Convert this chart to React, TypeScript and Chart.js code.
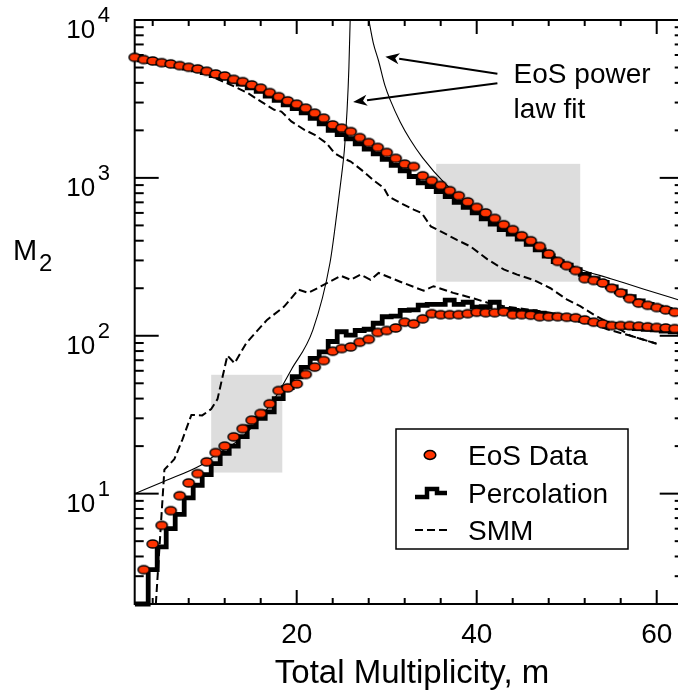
import React, { useEffect, useRef } from 'react';
import { Chart, registerables } from 'chart.js';

Chart.register(...registerables);

const FONT = "'Liberation Sans', Arial, Helvetica, sans-serif";

// ---------------- data ----------------
const eosUpperM = [2,3,4,5,6,7,8,9,10,11,12,13,14,15,16,17,18,19,20,21,22,23,24,25,26,27,28,29,30,31,32,33,34,35,36,37,38,39,40,41,42,43,44,45,46,47,48,49,50,51,52,53,54,55,56,57,58,59,60,61,62];
const eosUpperM2 = [5800,5620,5500,5370,5270,5145,5020,4900,4740,4550,4420,4210,4070,3880,3700,3470,3270,3075,2930,2765,2570,2390,2165,2065,1965,1800,1675,1560,1448,1330,1223,1180,1031,960,896,830,771,705,650,600,554,505,470,430,400,368,330,296,278,259,230,224,216,200,187,172,161,156,151,146,141];

const eosLowerM = [3,4,5,6,7,8,9,10,11,12,13,14,15,16,17,18,19,20,21,22,23,24,25,26,27,28,29,30,31,32,33,34,35,36,37,38,39,40,41,42,43,44,45,46,47,48,49,50,51,52,53,54,55,56,57,58,59,60,61,62];
const eosLowerM2 = [3.3,4.8,6.3,7.8,9.7,11.7,13.4,15.9,18.2,20.0,22.9,25.8,29.2,32.2,37.1,45,46.8,49.6,56.9,63.3,69.7,79.8,83,85,91,95,105,108,112,122,119,128,138,136,136,136,138,141,140,140,142,136,136,135,132,132,132,131,130,126,122,119,116,116,116,115,114,113,112,111];

const percUpperM = [2,3,4,5,6,7,8,9,10,11,12,13,14,15,16,17,18,19,20,21,22,23,24,25,26,27,28,29,30,31,32,33,34,35,36,37,38,39,40,41,42,43,44,45,46,47,48,49,50,51,52,53,54,55,56,57,58,59,60,61,62,63];
const percUpperM2 = [5780,5600,5480,5340,5230,5100,4960,4830,4650,4450,4300,4080,3920,3720,3530,3300,3100,2900,2750,2580,2380,2200,2000,1880,1770,1640,1520,1420,1310,1200,1110,1020,930,880,820,760,700,650,600,550,510,470,440,410,380,350,320,295,280,262,245,230,218,204,190,177,166,158,152,147,143,140];

const percLowerM = [2,3,4,5,6,7,8,9,10,11,12,13,14,15,16,17,18,19,20,21,22,23,24,25,26,27,28,29,30,31,32,33,34,35,36,37,38,39,40,41,42,43,44,45,46,47,48,49,50,51,52,53,54,55,56,57,58,59,60,61,62,63];
const percLowerM2 = [2,2,3.3,4.6,6.0,7.4,9.4,11.3,13.2,15.5,18,20,23,26.5,30,33,40,47,55,63,72,79,92,106,101,108,110,120,132,133,145,146,156,158,158,168,158,163,152,153,163,147,145,143,142,139,136,133,131,128,125,122,120,118,115,113,111,110,109,107,106,105];

const smmUpperM = [2,5,8,10,11,13.1,14.6,16,17.5,18.3,19.4,20.9,22,23.3,24.2,25.2,26,27.4,28.5,29.7,30.2,31.5,33,33.9,34.9,36,37.8,39.3,41.2,43,44.5,46.3,48.2,50,51.5,53,55,57.1,60];
const smmUpperM2 = [5750,5300,4950,4600,4280,3786,3434,3050,2700,2630,2280,2010,1875,1660,1435,1330,1270,1100,970,860,763,695,630,598,493,458,405,368,305,263,244,226,200,170,154,136,118,100,89];

const smmLowerM = [4.35,5.3,6.4,7.3,8.3,9.5,10.5,11.2,12.3,13.1,14.4,16.7,18.6,20.2,21.3,23.2,24.9,26,27.1,28.2,29.1,31.5,34.1,35.2,37.4,39.7,41.2,43,47.8,51.9,54.5,57.1,60];
const smmLowerM2 = [2,14.2,16.5,22,31.5,31.3,34.3,39.7,75,67,90,126,153,196,187,213,240,226,244,226,250,220,193,206,187,172,162,154,141,126,110,100,89];

const fitLowerM = [2,5.3,9.4,10.5,14,17.5,19.4,21.8,23.7,24.5,25.0,25.3,25.6,25.8,25.95];
const fitLowerM2 = [10,12,15.2,16.8,23,39.7,61,109,290,620,1050,1506,2700,5000,10500];

const fitUpperM = [27.95,28.5,29.1,29.8,30.4,31.5,32.6,34,36.5,40,44,48,51.2,54.9,58.5,63];
const fitUpperM2 = [10500,7200,5500,3850,3110,2260,1750,1340,920,625,440,333,268,230,198,165];

// shaded regions [mFrom, mTo, M2From, M2To]
const shadeBoxes = [
  [35.5, 51.5, 220, 1227],
  [10.5, 18.4, 13.6, 56.6],
];

const xMajorTicks = [20, 40, 60];
const xMinorStep = 4;
const yDecades = [1, 2, 3, 4];

const legendLabels = ['EoS Data', 'Percolation', 'SMM'];
const annotationLines = ['EoS power', 'law fit'];
// arrows: [fromM, fromM2, toM, toM2]
const arrows = [
  [42.3, 4560, 29.85, 5860],
  [42.3, 3974, 26.27, 3025],
];
const annotationAnchor = [44.1, 4010, 2392];

const RED = '#ff3300';

function xy(xs: number[], ys: number[]) {
  return xs.map((x, i) => ({ x, y: ys[i] }));
}

function makeDot(): HTMLCanvasElement {
  const c = document.createElement('canvas');
  c.width = 15;
  c.height = 12;
  const g = c.getContext('2d')!;
  g.beginPath();
  g.ellipse(7.5, 6, 5.6, 4.1, 0, 0, Math.PI * 2);
  g.fillStyle = RED;
  g.fill();
  g.lineWidth = 1.5;
  g.strokeStyle = '#000';
  g.stroke();
  return c;
}

const decor = {
  id: 'decor',
  beforeDatasetsDraw(chart: any) {
    const { ctx, chartArea: ca, scales } = chart;
    const xs = scales.x, ys = scales.y;
    ctx.save();
    // shaded boxes
    ctx.fillStyle = '#dddddd';
    for (const b of shadeBoxes) {
      const x1 = xs.getPixelForValue(b[0]);
      const x2 = xs.getPixelForValue(b[1]);
      const y1 = ys.getPixelForValue(b[2]);
      const y2 = ys.getPixelForValue(b[3]);
      ctx.fillRect(x1, y2, x2 - x1, y1 - y2);
    }
    // frame
    ctx.strokeStyle = '#000';
    ctx.lineWidth = 2;
    ctx.strokeRect(ca.left, ca.top, ca.right - ca.left, ca.bottom - ca.top);
    const seg = (a: number, b: number, c: number, d: number) => {
      ctx.beginPath();
      ctx.moveTo(a, b);
      ctx.lineTo(c, d);
      ctx.stroke();
    };
    ctx.lineWidth = 2;
    // y ticks
    for (let k = 0; k <= 4; k++) {
      for (let m = 1; m <= 9; m++) {
        const v = m * Math.pow(10, k);
        if (v < 2 || v > 10000) continue;
        const py = ys.getPixelForValue(v);
        const len = m === 1 ? 24 : 9;
        seg(ca.left, py, ca.left + len, py);
        seg(ca.right, py, ca.right - len, py);
      }
    }
    // x ticks
    for (let v = xMinorStep; v <= 63; v += xMinorStep) {
      if (v < 2) continue;
      const px = xs.getPixelForValue(v);
      const len = xMajorTicks.includes(v) ? 14 : 6;
      seg(px, ca.bottom, px, ca.bottom - len);
      seg(px, ca.top, px, ca.top + len);
    }
    // x tick labels
    ctx.fillStyle = '#000';
    ctx.font = `28px ${FONT}`;
    ctx.textAlign = 'center';
    ctx.textBaseline = 'alphabetic';
    for (const v of xMajorTicks) {
      ctx.fillText(String(v), xs.getPixelForValue(v), ca.bottom + 39);
    }
    // y tick labels 10^k
    for (const k of yDecades) {
      const py = ys.getPixelForValue(Math.pow(10, k));
      ctx.font = `26px ${FONT}`;
      ctx.textAlign = 'right';
      ctx.fillText('10', ca.left - 39.5, py + 18);
      ctx.font = `22px ${FONT}`;
      ctx.textAlign = 'left';
      ctx.fillText(String(k), ca.left - 37, py + 2);
    }
    // y title M2
    ctx.textAlign = 'left';
    ctx.font = `29px ${FONT}`;
    ctx.fillText('M', 13, 260);
    ctx.font = `24px ${FONT}`;
    ctx.fillText('2', 39, 271);
    // x title
    ctx.font = `33px ${FONT}`;
    ctx.textAlign = 'center';
    ctx.fillText('Total Multiplicity, m', 412, ca.bottom + 79);
    ctx.restore();
  },
  afterDatasetsDraw(chart: any) {
    const { ctx, chartArea: ca, scales } = chart;
    const xs = scales.x, ys = scales.y;
    ctx.save();
    // annotation text
    ctx.fillStyle = '#000';
    ctx.font = `28px ${FONT}`;
    ctx.textAlign = 'left';
    ctx.textBaseline = 'alphabetic';
    const ax = xs.getPixelForValue(annotationAnchor[0]);
    ctx.fillText(annotationLines[0], ax, ys.getPixelForValue(annotationAnchor[1]));
    ctx.fillText(annotationLines[1], ax, ys.getPixelForValue(annotationAnchor[2]));
    // arrows
    ctx.strokeStyle = '#000';
    ctx.lineWidth = 2;
    for (const a of arrows) {
      const x1 = xs.getPixelForValue(a[0]);
      const y1 = ys.getPixelForValue(a[1]);
      const x2 = xs.getPixelForValue(a[2]);
      const y2 = ys.getPixelForValue(a[3]);
      const ang = Math.atan2(y2 - y1, x2 - x1);
      const hl = 14, hw = 5.5;
      const bx = x2 - hl * Math.cos(ang);
      const by = y2 - hl * Math.sin(ang);
      ctx.beginPath();
      ctx.moveTo(x1, y1);
      ctx.lineTo(bx, by);
      ctx.stroke();
      ctx.beginPath();
      ctx.moveTo(x2, y2);
      ctx.lineTo(bx + hw * Math.sin(ang), by - hw * Math.cos(ang));
      ctx.lineTo(bx + 4 * Math.cos(ang), by + 4 * Math.sin(ang));
      ctx.lineTo(bx - hw * Math.sin(ang), by + hw * Math.cos(ang));
      ctx.closePath();
      ctx.fillStyle = '#000';
      ctx.fill();
    }
    // legend
    const lx = ca.left + 261.3;
    const ly = ca.top + 409;
    const lw = 232, lh = 120;
    ctx.fillStyle = '#fff';
    ctx.fillRect(lx, ly, lw, lh);
    ctx.lineWidth = 1.5;
    ctx.strokeStyle = '#000';
    ctx.strokeRect(lx, ly, lw, lh);
    const tx = lx + 72;
    const base = [ly + 36, ly + 74, ly + 111];
    ctx.fillStyle = '#000';
    ctx.font = `28px ${FONT}`;
    legendLabels.forEach((t, i) => ctx.fillText(t, tx, base[i]));
    // eos marker
    ctx.beginPath();
    ctx.ellipse(lx + 34, ly + 26, 5.8, 4.4, 0, 0, Math.PI * 2);
    ctx.fillStyle = RED;
    ctx.fill();
    ctx.lineWidth = 1.5;
    ctx.stroke();
    // percolation marker
    ctx.lineWidth = 4.5;
    ctx.lineJoin = 'miter';
    ctx.beginPath();
    ctx.moveTo(lx + 19, ly + 68);
    ctx.lineTo(lx + 31, ly + 68);
    ctx.lineTo(lx + 31, ly + 60);
    ctx.lineTo(lx + 41, ly + 60);
    ctx.lineTo(lx + 41, ly + 64);
    ctx.lineTo(lx + 51, ly + 64);
    ctx.stroke();
    // smm marker
    ctx.lineWidth = 2;
    ctx.setLineDash([8, 4]);
    ctx.beginPath();
    ctx.moveTo(lx + 19, ly + 101);
    ctx.lineTo(lx + 52, ly + 101);
    ctx.stroke();
    ctx.setLineDash([]);
    ctx.restore();
  },
};

export default function App() {
  const ref = useRef<HTMLCanvasElement | null>(null);
  useEffect(() => {
    if (!ref.current) return;
    const dot = makeDot();
    const W = 700, H = 691;
    const left = 134.7, top = 20, right = 683.7, bottom = 604;
    const lineBase = { pointRadius: 0, pointHoverRadius: 0, fill: false, tension: 0 };
    const chart = new Chart(ref.current, {
      type: 'line',
      data: {
        datasets: [
          { ...lineBase, data: xy(eosUpperM, eosUpperM2), showLine: false, pointStyle: dot as any, pointRadius: 5, borderColor: '#000', backgroundColor: RED, order: 1, clip: false as any },
          { ...lineBase, data: xy(eosLowerM, eosLowerM2), showLine: false, pointStyle: dot as any, pointRadius: 5, borderColor: '#000', backgroundColor: RED, order: 1, clip: false as any },
          { ...lineBase, data: xy(percUpperM, percUpperM2), stepped: 'middle', borderColor: '#000', borderWidth: 4.8, borderJoinStyle: 'miter', order: 2 },
          { ...lineBase, data: xy(percLowerM, percLowerM2), stepped: 'middle', borderColor: '#000', borderWidth: 4.8, borderJoinStyle: 'miter', order: 2, clip: { left: 0, top: 0, right: 0, bottom: 3 } as any },
          { ...lineBase, data: xy(smmUpperM, smmUpperM2), borderColor: '#000', borderWidth: 2, borderDash: [8, 4], order: 3 },
          { ...lineBase, data: xy(smmLowerM, smmLowerM2), borderColor: '#000', borderWidth: 2, borderDash: [8, 4], order: 3 },
          { ...lineBase, data: xy(fitLowerM, fitLowerM2), borderColor: '#000', borderWidth: 1.1, cubicInterpolationMode: 'monotone', order: 4 },
          { ...lineBase, data: xy(fitUpperM, fitUpperM2), borderColor: '#000', borderWidth: 1.1, cubicInterpolationMode: 'monotone', order: 4 },
        ] as any,
      },
      options: {
        responsive: false,
        animation: false,
        devicePixelRatio: 1,
        events: [],
        layout: { padding: { left, top, right: W - right, bottom: H - bottom } },
        scales: {
          x: { type: 'linear', min: 2, max: 63, display: false },
          y: { type: 'logarithmic', min: 2, max: 10000, display: false },
        },
        plugins: { legend: { display: false }, tooltip: { enabled: false } },
      } as any,
      plugins: [decor],
    });
    return () => chart.destroy();
  }, []);
  return (
    <div style={{ position: 'fixed', left: 0, top: 0, width: 678, height: 691, overflow: 'hidden', background: '#fff' }}>
      <canvas ref={ref} width={700} height={691} style={{ display: 'block', width: 700, height: 691 }} />
    </div>
  );
}
